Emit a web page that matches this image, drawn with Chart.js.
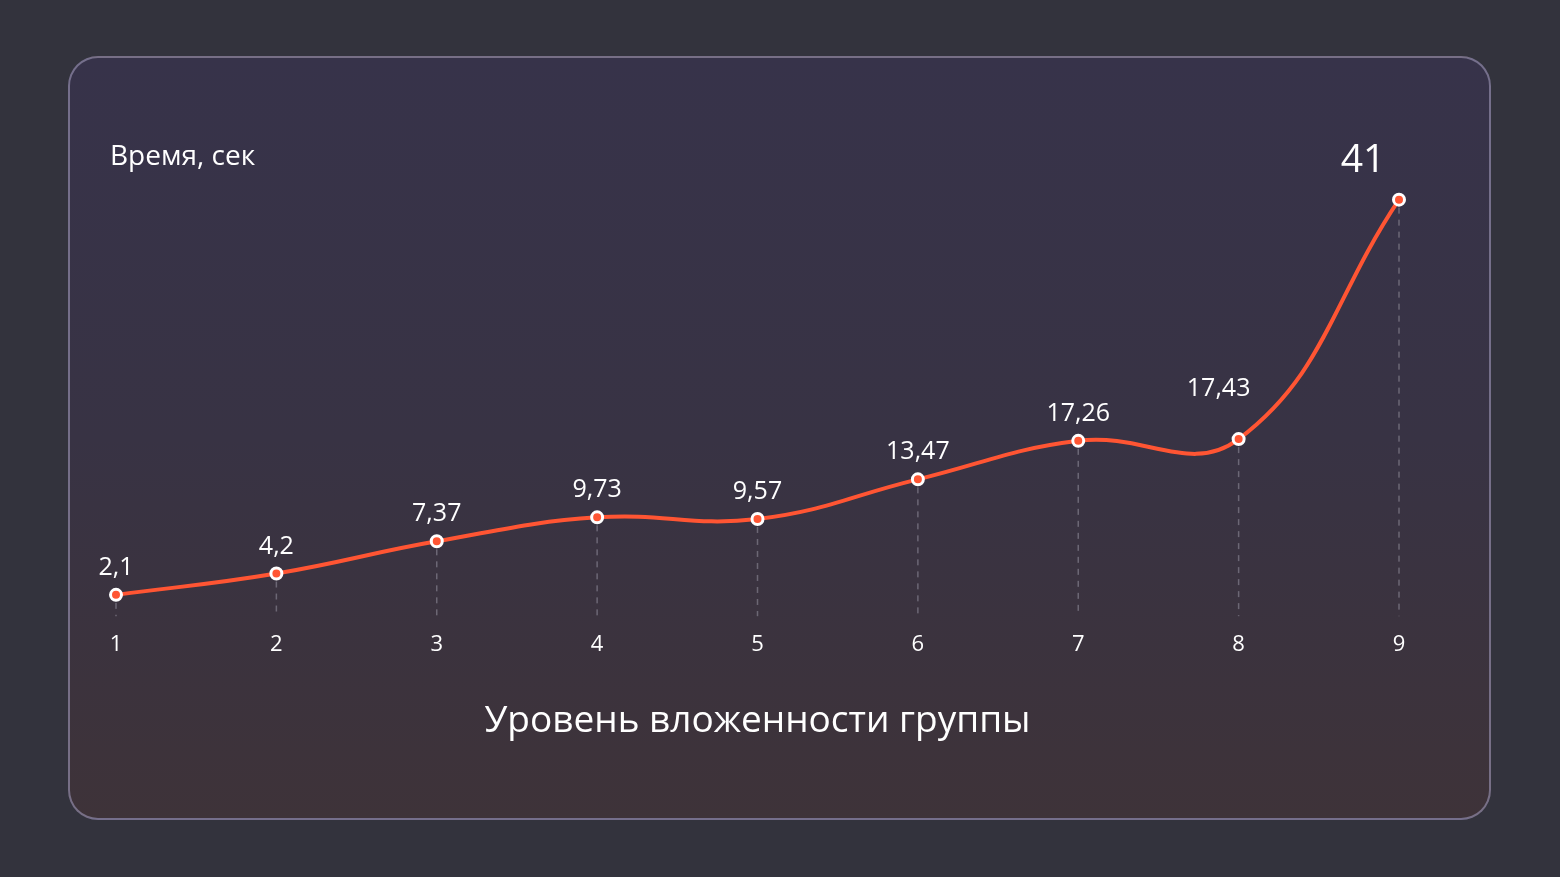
<!DOCTYPE html>
<html>
<head>
<meta charset="utf-8">
<script src="https://cdn.jsdelivr.net/npm/chart.js@4"></script>
<style>
  html, body { margin: 0; padding: 0; }
  body { width: 1560px; height: 877px; background: #33333d; position: relative; overflow: hidden; font-family: "Open Sans", sans-serif; }
  #card {
    position: absolute; left: 68px; top: 56px; width: 1423px; height: 764px;
    box-sizing: border-box; border-radius: 30px;
    border: 2px solid rgba(150, 145, 175, 0.65);
    background: linear-gradient(180deg, #37334a 0%, #383344 50%, #3e3339 100%);
    overflow: hidden;
  }
  #ylabel { position: absolute; left: 40px; top: 77px; color: #fff; font-size: 28px; }
  #chart { position: absolute; left: 0; top: 0; }
</style>
</head>
<body>
<div id="card">
  <canvas id="chart" width="1423" height="764"></canvas>
  <div id="ylabel">Время, сек</div>
</div>
<script>
// nesting level -> time in seconds
var levels = ['1', '2', '3', '4', '5', '6', '7', '8', '9'];
var times = [2.1, 4.2, 7.37, 9.73, 9.57, 13.47, 17.26, 17.43, 41];
var valueLabels = ['2,1', '4,2', '7,37', '9,73', '9,57', '13,47', '17,26', '17,43', '41'];

const lineColor = '#ff5533';

// dashed drop lines from each point down to zero
const dropLines = {
    id: 'dropLines',
    beforeDatasetsDraw(chart){
        var ctx = chart.ctx;
        var y0 = chart.scales.y.getPixelForValue(0);
        var meta = chart.getDatasetMeta(0);
        ctx.save();
        ctx.strokeStyle = 'rgba(130,126,140,0.7)';
        ctx.lineWidth = 1.5;
        ctx.setLineDash([6, 6]);
        meta.data.forEach((pt)=>{
            ctx.beginPath();
            ctx.moveTo(pt.x, pt.y + 8);
            ctx.lineTo(pt.x, y0);
            ctx.stroke();
        });
        ctx.restore();
    }
};

// value labels above the points
const valueText = {
    id: 'valueText',
    afterDatasetsDraw(chart){
        var ctx = chart.ctx;
        var meta = chart.getDatasetMeta(0);
        ctx.save();
        ctx.fillStyle = '#ffffff';
        ctx.textAlign = 'center';
        ctx.textBaseline = 'middle';
        meta.data.forEach((pt, i)=>{
            var dx = 0, dy = 27, size = 25;
            if(i == 7){ dx = -20; dy = 50; }
            if(i == times.length - 1){ dx = -36; dy = 39; size = 39; }
            ctx.font = size + 'px "Open Sans"';
            ctx.fillText(valueLabels[i], pt.x + dx, pt.y - dy);
        });
        ctx.restore();
    }
};

var ctx1 = document.getElementById('chart').getContext('2d');
var chart = new Chart(ctx1, {
    type: 'line',
    data: {
        labels: levels,
        datasets: [{
            data: times,
            borderColor: lineColor,
            borderWidth: 4,
            tension: 0.42,
            fill: false,
            pointRadius: 5.5,
            pointHoverRadius: 5.5,
            pointBackgroundColor: lineColor,
            pointBorderColor: '#ffffff',
            pointBorderWidth: 3,
            clip: false
        }]
    },
    options: {
        responsive: false,
        animation: false,
        events: [],
        layout: {
            padding: { left: 46, right: 94, top: 101, bottom: 78 }
        },
        plugins: {
            legend: { display: false },
            tooltip: { enabled: false }
        },
        scales: {
            x: {
                offset: false,
                grid: { display: false, drawTicks: false },
                border: { display: false },
                ticks: {
                    color: '#ffffff',
                    padding: 15,
                    font: { family: 'Open Sans', size: 22 }
                },
                title: {
                    display: true,
                    text: 'Уровень вложенности группы',
                    color: '#ffffff',
                    font: { family: 'Open Sans', size: 37 },
                    padding: { top: 27, bottom: 0 }
                }
            },
            y: {
                display: false,
                min: 0,
                max: 45
            }
        }
    },
    plugins: [dropLines, valueText]
});
</script>
</body>
</html>
